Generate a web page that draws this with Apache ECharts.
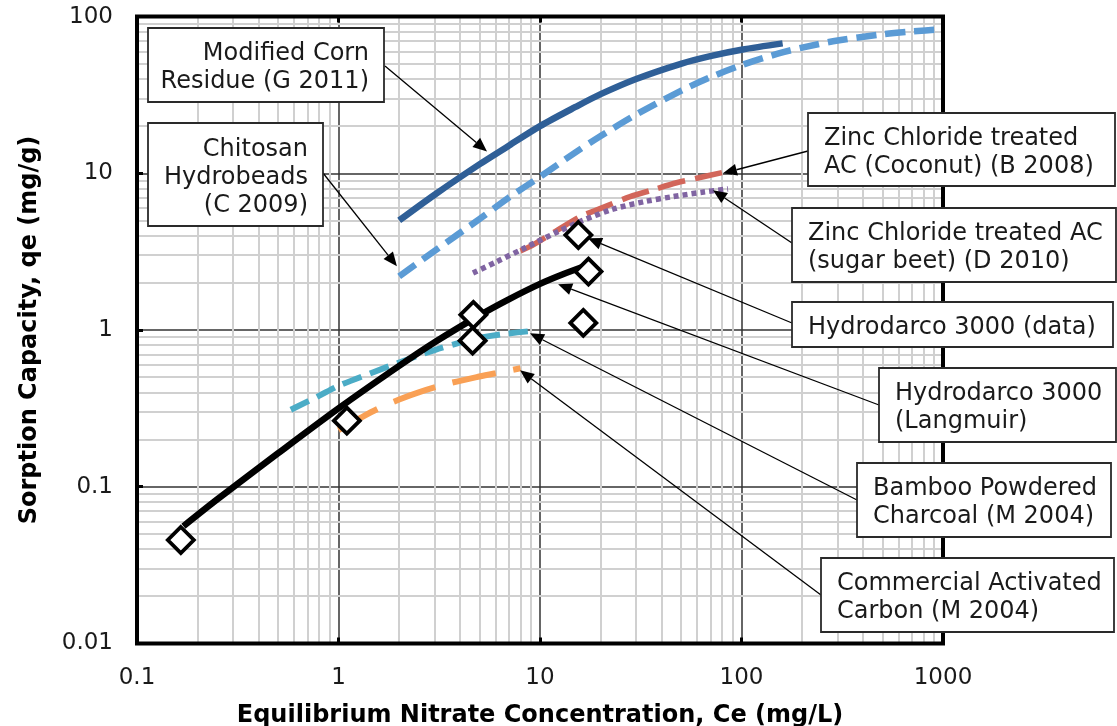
<!DOCTYPE html>
<html><head><meta charset="utf-8">
<script src="https://cdn.jsdelivr.net/npm/echarts@6/dist/echarts.min.js"></script>
<style>html,body{margin:0;padding:0;background:#fff}#c{width:1117px;height:726px}</style>
</head><body><div id="c"></div>
<script>
const FONT = '"DejaVu Sans", Verdana, sans-serif';

// Axis ticks
const xTicks = [0.1, 1, 10, 100, 1000];
const yTicks = [0.01, 0.1, 1, 10, 100];
const xMinorGrid = [0.2,0.3,0.4,0.5,0.6,0.7,0.8,0.9, 2,3,4,5,6,7,8,9, 20,30,40,50,60,70,80,90, 200,300,400,500,600,700,800,900];
const yMinorGrid = [0.02,0.03,0.04,0.05,0.06,0.07,0.08,0.09, 0.2,0.3,0.4,0.5,0.6,0.7,0.8,0.9, 2,3,4,5,6,7,8,9, 20,30,40,50,60,70,80,90];

// Modified Corn Residue (G 2011)
const cornC = [2, 3, 5, 7, 10, 15, 20, 30, 50, 70, 100, 160];
const cornQ = [5.0, 7.3, 11.4, 15.0, 20.0, 26.5, 32.0, 40.0, 50.0, 56.0, 61.5, 67.5];
// Chitosan Hydrobeads (C 2009)
const chitosanC = [2, 3, 5, 7, 10, 15, 20, 30, 50, 70, 100, 150, 200, 300, 500, 700, 1000];
const chitosanQ = [2.2, 3.2, 5.1, 7.0, 9.5, 13.6, 17.3, 23.7, 33.6, 41, 49, 57.8, 63.4, 70.4, 77.1, 80.4, 83];
// Zinc Chloride treated AC (Coconut) (B 2008)
const coconutC = [8, 8.9, 12, 15.8, 20, 28, 36, 47.6, 60, 80];
const coconutQ = [3.2, 3.4, 4.28, 5.28, 5.97, 7.1, 7.82, 8.7, 9.3, 10.1];
// Zinc Chloride treated AC (sugar beet) (D 2010)
const beetC = [4.65, 6, 8.24, 12.1, 16, 23, 33, 45.7, 65, 85.7];
const beetQ = [2.31, 2.7, 3.3, 4.2, 4.95, 5.9, 6.6, 7.1, 7.6, 7.94];
// Hydrodarco 3000 (Langmuir)
const langC = [0.17, 0.25, 0.5, 1, 2, 3, 5, 7, 10, 13, 17.3];
const langQ = [0.056, 0.083, 0.163, 0.316, 0.59, 0.835, 1.24, 1.57, 1.97, 2.27, 2.6];
// Hydrodarco 3000 (data)
const dataC = [0.165, 1.1, 4.67, 4.63, 15.5, 17.4, 16.4];
const dataQ = [0.0457, 0.264, 1.25, 0.855, 4.04, 2.36, 1.11];
// Bamboo Powdered Charcoal (M 2004)
const bambooC = [0.58, 0.8, 1, 1.5, 2, 3, 4, 5, 6.5, 8.7];
const bambooQ = [0.31, 0.38, 0.44, 0.54, 0.62, 0.745, 0.83, 0.89, 0.94, 0.98];
// Commercial Activated Carbon (M 2004)
const commC = [1.0, 1.3, 1.6, 2, 2.5, 3.5, 5, 6.5, 8];
const commQ = [0.23, 0.277, 0.318, 0.36, 0.40, 0.455, 0.505, 0.54, 0.57];

// Annotation labels
const notes = [
  {lines:['Modified Corn','Residue (G 2011)'], box:[148,28,236,74], align:'right', from:[385,66], tip:[5.46,13.8]},
  {lines:['Chitosan','Hydrobeads','(C 2009)'], box:[148,123,175,103], align:'right', from:[323,173], tip:[1.95,2.55]},
  {lines:['Zinc Chloride treated','AC (Coconut) (B 2008)'], box:[808,113,307,73], align:'left', from:[808,151], tip:[80.9,10]},
  {lines:['Zinc Chloride treated AC','(sugar beet) (D 2010)'], box:[792,208,324,74], align:'left', from:[792,243], tip:[72.2,7.79]},
  {lines:['Hydrodarco 3000 (data)'], box:[792,302,321,45], align:'left', from:[792,323], tip:[17.3,3.85]},
  {lines:['Hydrodarco 3000','(Langmuir)'], box:[879,368,237,74], align:'left', from:[879,405], tip:[12.3,1.96]},
  {lines:['Bamboo Powdered','Charcoal (M 2004)'], box:[857,463,254,74], align:'left', from:[857,500], tip:[8.92,0.952]},
  {lines:['Commercial Activated','Carbon (M 2004)'], box:[821,558,293,74], align:'left', from:[821,595], tip:[7.96,0.553]}
];

const zip = (a, b) => a.map((v, i) => [v, b[i]]);
const chart = echarts.init(document.getElementById('c'), null, {renderer: 'canvas'});

function lineSeries(name, c, q, color, width, type, z) {
  return {
    name, type: 'line', data: zip(c, q), smooth: 0.3, showSymbol: false, symbol: 'none',
    z: z || 5, silent: true, animation: false,
    lineStyle: {color, width, type, cap: 'butt', join: 'round'}
  };
}

const axisCommon = {
  type: 'log', logBase: 10, interval: 1,
  axisLine: {show: false},
  axisTick: {show: true, inside: true, length: 6, lineStyle: {color: '#000', width: 3}},
  splitLine: {show: true, lineStyle: {color: '#333', width: 1.5}},
  z: 3
};

const option = {
  animation: false,
  backgroundColor: '#fff',
  grid: {left: 137, right: 174, top: 16.6, bottom: 82.6, show: true, borderColor: '#000', borderWidth: 4,
    backgroundColor: 'transparent', z: 6, containLabel: false, outerBoundsMode: 'none'},
  xAxis: [
    Object.assign({}, axisCommon, {
      min: 0.1, max: 1000, position: 'bottom',
      axisLabel: {fontFamily: FONT, fontSize: 23, color: '#1a1a1a', margin: 23, formatter: v => String(v)},
      name: 'Equilibrium Nitrate Concentration, Ce (mg/L)', nameLocation: 'middle', nameGap: 60,
      nameTextStyle: {fontFamily: FONT, fontSize: 24, fontWeight: 'bold', color: '#000'}
    }),
    Object.assign({}, axisCommon, {
      min: 0.1, max: 1000, position: 'top', axisLabel: {show: false}, splitLine: {show: false}
    })
  ],
  yAxis: [
    Object.assign({}, axisCommon, {
      min: 0.01, max: 100, position: 'left',
      axisLabel: {fontFamily: FONT, fontSize: 23, color: '#1a1a1a', margin: 24, formatter: v => String(v)},
      name: 'Sorption Capacity, qe (mg/g)', nameLocation: 'middle', nameGap: 95,
      nameTextStyle: {fontFamily: FONT, fontSize: 24, fontWeight: 'bold', color: '#000'}
    })
  ],
  series: [
    {
      type: 'line', data: [], silent: true, z: 1,
      markLine: {
        silent: true, symbol: ['none', 'none'], label: {show: false}, animation: false,
        lineStyle: {color: '#d0d0d0', width: 2, type: 'solid'},
        emphasis: {disabled: true},
        data: xMinorGrid.map(v => ({xAxis: v})).concat(yMinorGrid.map(v => ({yAxis: v})))
      }
    },
    lineSeries('Modified Corn Residue (G 2011)', cornC, cornQ, '#2F5F97', 6.5, 'solid', 5),
    lineSeries('Chitosan Hydrobeads (C 2009)', chitosanC, chitosanQ, '#5B9BD5', 6.5, [20, 9], 5),
    lineSeries('Zinc Chloride treated AC (Coconut) (B 2008)', coconutC, coconutQ, '#D2665A', 5.5, [28, 10], 5),
    lineSeries('Zinc Chloride treated AC (sugar beet) (D 2010)', beetC, beetQ, '#8064A2', 5.5, [5, 4], 5),
    lineSeries('Bamboo Powdered Charcoal (M 2004)', bambooC, bambooQ, '#4BACC6', 6, [20, 9], 5),
    lineSeries('Commercial Activated Carbon (M 2004)', commC, commQ, '#F9A055', 6, [44, 18], 5),
    lineSeries('Hydrodarco 3000 (Langmuir)', langC, langQ, '#000000', 6.5, 'solid', 7),
    {
      name: 'Hydrodarco 3000 (data)', type: 'scatter', data: zip(dataC, dataQ), z: 8,
      symbol: 'diamond', symbolSize: [26, 26], silent: true,
      itemStyle: {color: '#fff', borderColor: '#000', borderWidth: 3.8, opacity: 1}
    }
  ]
};
chart.setOption(option);

function arrow(x1, y1, x2, y2) {
  const dx = x2 - x1, dy = y2 - y1, L = Math.hypot(dx, dy), ux = dx / L, uy = dy / L;
  const hl = 14, hw = 6;
  const bx = x2 - ux * hl, by = y2 - uy * hl;
  return [
    {type: 'line', silent: true, z: 20, shape: {x1, y1, x2: bx, y2: by}, style: {stroke: '#000', lineWidth: 1.3}},
    {type: 'polygon', silent: true, z: 20, shape: {points: [[x2, y2], [bx - uy * hw, by + ux * hw], [bx + uy * hw, by - ux * hw]]}, style: {fill: '#000'}}
  ];
}

const graphics = [];
notes.forEach(n => {
  const [bx, by, bw, bh] = n.box;
  const tip = chart.convertToPixel({gridIndex: 0}, n.tip);
  arrow(n.from[0], n.from[1], tip[0], tip[1]).forEach(g => graphics.push(g));
  graphics.push({type: 'rect', silent: true, z: 30, shape: {x: bx, y: by, width: bw, height: bh},
    style: {fill: '#fff', stroke: '#2a2a2a', lineWidth: 1.8}});
  graphics.push({type: 'text', silent: true, z: 31,
    x: n.align === 'right' ? bx + bw - 15 : bx + 16, y: by + bh / 2 + 3,
    style: {text: n.lines.join('\n'), fontFamily: FONT, fontSize: 24, fill: '#1a1a1a',
      align: n.align, verticalAlign: 'middle', lineHeight: 28}});
});
chart.setOption({graphic: graphics});
</script>
</body></html>
